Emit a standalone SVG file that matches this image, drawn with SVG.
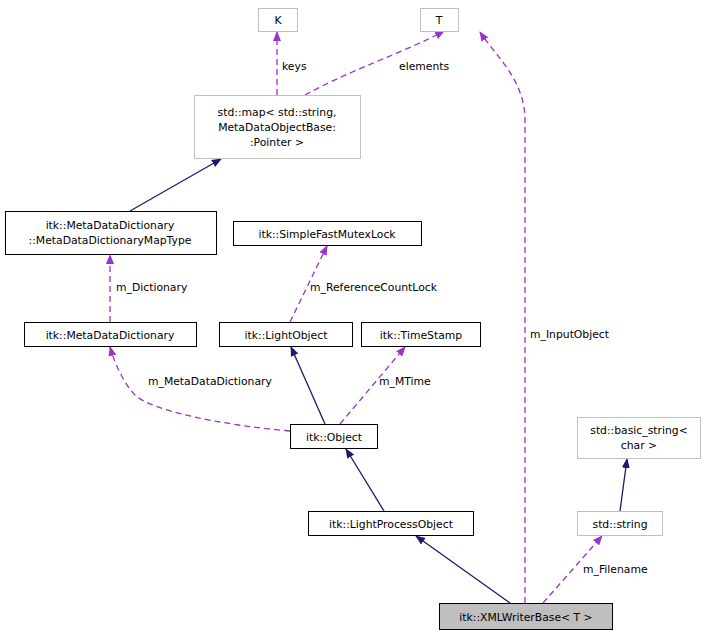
<svg xmlns="http://www.w3.org/2000/svg" width="705" height="637" viewBox="0 0 705 637">
<style>
text{font-family:"DejaVu Sans","Liberation Sans",sans-serif;font-size:10.8px;fill:#000;text-anchor:middle}
.lb{text-anchor:start}
.n{fill:#fff;stroke:#000;stroke-width:1}
.g{fill:#fff;stroke:#bfbfbf;stroke-width:1}
.inh{fill:none;stroke:#191970;stroke-width:1.3}
.use{fill:none;stroke:#9a32cd;stroke-width:1.3;stroke-dasharray:6,4}
</style>
<defs>
<marker id="an" markerWidth="10" markerHeight="10" refX="9" refY="5" orient="auto" markerUnits="userSpaceOnUse"><path d="M0,1 L10,5 L0,9 z" fill="#191970"/></marker>
<marker id="ap" markerWidth="10" markerHeight="10" refX="9" refY="5" orient="auto" markerUnits="userSpaceOnUse"><path d="M0,1 L10,5 L0,9 z" fill="#9a32cd"/></marker>
</defs>
<rect width="705" height="637" fill="#fff"/>
<g id="edges">
<path class="use" d="M277,95 L277,32" marker-end="url(#ap)"/><text class="lb" x="282" y="70">keys</text>
<path class="use" d="M305,95 C350,70 410,50 444,31" marker-end="url(#ap)"/><text class="lb" x="399" y="70">elements</text>
<path class="inh" d="M130,211 L221,159" marker-end="url(#an)"/>
<path class="use" d="M110,322 L110,255" marker-end="url(#ap)"/><text class="lb" x="116" y="291">m_Dictionary</text>
<path class="use" d="M290,322 L327,246" marker-end="url(#ap)"/><text class="lb" x="310" y="291">m_ReferenceCountLock</text>
<path class="use" d="M290,431 C220,425 150,410 135,395 C125,385 115,365 110,347" marker-end="url(#ap)"/><text class="lb" x="148" y="385">m_MetaDataDictionary</text>
<path class="inh" d="M325,424 L291,347" marker-end="url(#an)"/>
<path class="use" d="M340,424 L405,347" marker-end="url(#ap)"/><text class="lb" x="379" y="385">m_MTime</text>
<path class="inh" d="M384,511 L346,449" marker-end="url(#an)"/>
<path class="inh" d="M510,603 L416,536" marker-end="url(#an)"/>
<path class="use" d="M543,603 L602,536" marker-end="url(#ap)"/><text class="lb" x="583" y="573">m_Filename</text>
<path class="inh" d="M620,511 L627,459" marker-end="url(#an)"/>
<path class="use" d="M525,603 L525,120 C525,80 495,55 480,32" marker-end="url(#ap)"/><text class="lb" x="530" y="338">m_InputObject</text>
</g>
<g id="K"><rect class="g" x="258.5" y="8.5" width="39" height="23"/><text x="278" y="24">K</text></g>
<g id="T"><rect class="g" x="420.5" y="8.5" width="38" height="23"/><text x="439" y="24">T</text></g>
<g id="map"><rect class="g" x="194.5" y="95.5" width="166" height="63"/><text x="277" y="116">std::map&lt; std::string,</text><text x="277" y="131"> MetaDataObjectBase:</text><text x="277" y="146">:Pointer &gt;</text></g>
<g id="maptype"><rect class="n" x="5.5" y="211.5" width="211" height="43"/><text x="110" y="229">itk::MetaDataDictionary</text><text x="110" y="244">::MetaDataDictionaryMapType</text></g>
<g id="mutex"><rect class="n" x="233.5" y="221.5" width="188" height="24"/><text x="327" y="238">itk::SimpleFastMutexLock</text></g>
<g id="mdd"><rect class="n" x="24.5" y="322.5" width="172" height="24"/><text x="110" y="339">itk::MetaDataDictionary</text></g>
<g id="lo"><rect class="n" x="219.5" y="322.5" width="133" height="24"/><text x="286" y="339">itk::LightObject</text></g>
<g id="ts"><rect class="n" x="361.5" y="322.5" width="119" height="24"/><text x="421" y="339">itk::TimeStamp</text></g>
<g id="obj"><rect class="n" x="290.5" y="424.5" width="87" height="24"/><text x="334" y="441">itk::Object</text></g>
<g id="bs"><rect class="g" x="577.5" y="417.5" width="123" height="41"/><text x="639" y="434">std::basic_string&lt;</text><text x="639" y="449">char &gt;</text></g>
<g id="str"><rect class="g" x="577.5" y="511.5" width="85" height="24"/><text x="620" y="528">std::string</text></g>
<g id="lpo"><rect class="n" x="308.5" y="511.5" width="165" height="24"/><text x="391" y="528">itk::LightProcessObject</text></g>
<g id="xml"><rect x="439.5" y="603.5" width="173" height="26" fill="#bfbfbf" stroke="#000"/><text x="526" y="621">itk::XMLWriterBase&lt; T &gt;</text></g>
</svg>
